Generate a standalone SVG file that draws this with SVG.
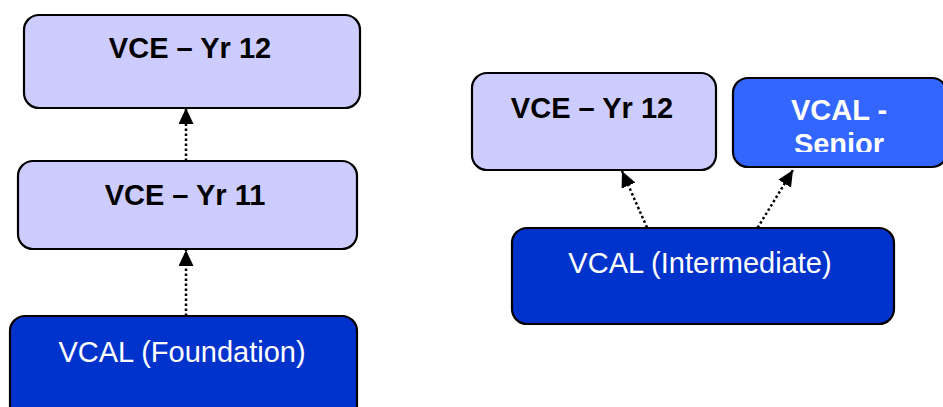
<svg xmlns="http://www.w3.org/2000/svg" width="943" height="407" viewBox="0 0 943 407">
<style>
.box{stroke:#000;stroke-width:2.2}
.light{fill:#ccccff}
.dark{fill:#0033cc}
.mid{fill:#3366ff}
.hb{font-family:"Liberation Sans",Arial,sans-serif;font-weight:bold;font-size:29px;text-anchor:middle}
.hr{font-family:"Liberation Sans",Arial,sans-serif;font-size:29px;text-anchor:middle;fill:#fff}
.conn{stroke:#000;stroke-width:2.5;stroke-dasharray:2.5 2.5;fill:none}
</style>
<defs>
<marker id="ah" markerUnits="userSpaceOnUse" markerWidth="16" markerHeight="15" refX="16" refY="7.5" orient="auto">
<path d="M0,0 L16,7.5 L0,15 z" fill="#000"/>
</marker>
<clipPath id="clipSenior"><rect x="733" y="78" width="220" height="74"/></clipPath>
</defs>
<rect width="943" height="407" fill="#fff"/>
<g id="connectors">
<line class="conn" x1="186" y1="161" x2="186" y2="108" marker-end="url(#ah)"/>
<line class="conn" x1="186" y1="316" x2="186" y2="250" marker-end="url(#ah)"/>
<line class="conn" x1="649" y1="232" x2="622" y2="171" marker-end="url(#ah)"/>
<line class="conn" x1="755" y1="232" x2="793" y2="170" marker-end="url(#ah)"/>
</g>
<g id="vce12-left">
<rect class="box light" x="24" y="15" width="336" height="93" rx="15"/>
<text class="hb" x="190" y="58">VCE – Yr 12</text>
</g>
<g id="vce11-left">
<rect class="box light" x="18" y="161" width="339" height="88" rx="15"/>
<text class="hb" x="185" y="205">VCE – Yr 11</text>
</g>
<g id="vcal-foundation">
<rect class="box dark" x="10" y="316" width="347" height="110" rx="15"/>
<text class="hr" x="182" y="362">VCAL (Foundation)</text>
</g>
<g id="vce12-right">
<rect class="box light" x="472" y="73" width="244" height="97" rx="15"/>
<text class="hb" x="592" y="118">VCE – Yr 12</text>
</g>
<g id="vcal-senior">
<rect class="box mid" x="733" y="78" width="214" height="89" rx="15"/>
<g clip-path="url(#clipSenior)">
<text class="hb" x="839" y="120" fill="#fff">VCAL -</text>
<text class="hb" x="839" y="154" fill="#fff">Senior</text>
</g>
</g>
<g id="vcal-intermediate">
<rect class="box dark" x="512" y="228" width="382" height="96" rx="15"/>
<text class="hr" x="700" y="273">VCAL (Intermediate)</text>
</g>
</svg>
